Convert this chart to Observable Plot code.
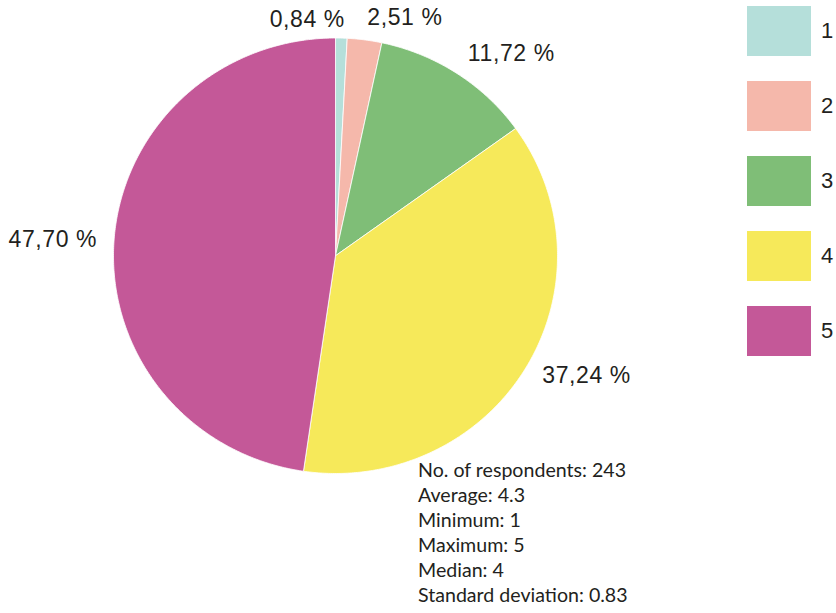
<!DOCTYPE html>
<html>
<head>
<meta charset="utf-8">
<script src="https://cdn.jsdelivr.net/npm/d3@7"></script>
<script src="https://cdn.jsdelivr.net/npm/@observablehq/plot@0.6"></script>
<style>
  html, body { margin: 0; padding: 0; background: #fff; }
  #wrap { position: relative; width: 836px; height: 613px; overflow: hidden; }
  #legend { position: absolute; left: 747px; top: 6px; font-family: "Liberation Sans", Arial, sans-serif; font-size: 22px; color: #231f20; }
  .item { display: flex; align-items: center; height: 50px; margin-bottom: 25px; }
  .sw { width: 64px; height: 50px; margin-right: 10px; }
  #stats { position: absolute; left: 418px; top: 458px; font-family: Lato, "Open Sans", sans-serif; font-size: 19.6px; line-height: 24.9px; color: #231f20; white-space: nowrap; }
  svg text { letter-spacing: 0.6px; }
</style>
</head>
<body>
<div id="wrap">
  <div id="chart"></div>
  <div id="legend"></div>
  <div id="stats"></div>
</div>
<script>
const categories = ["1", "2", "3", "4", "5"];
const percents = [0.84, 2.51, 11.72, 37.24, 47.70];
const colors = ["#b5dfda", "#f5b8ab", "#7fbe77", "#f6e95a", "#c45898"];
const statsLines = [
  "No. of respondents: 243",
  "Average: 4.3",
  "Minimum: 1",
  "Maximum: 5",
  "Median: 4",
  "Standard deviation: 0.83"
];

const total = d3.sum(percents);
let acc = 0;
const slices = categories.map((key, i) => {
  const a0 = acc / total * 2 * Math.PI;
  acc += percents[i];
  const a1 = acc / total * 2 * Math.PI;
  return {key, value: percents[i], a0, a1, mid: (a0 + a1) / 2};
});

// polygon outline of each slice (center + arc)
const pts = [];
for (const s of slices) {
  pts.push({key: s.key, x: 0, y: 0});
  const n = Math.max(2, Math.ceil((s.a1 - s.a0) / (Math.PI / 360)));
  for (let j = 0; j <= n; j++) {
    const a = s.a0 + (s.a1 - s.a0) * j / n;
    pts.push({key: s.key, x: Math.sin(a), y: Math.cos(a)});
  }
  pts.push({key: s.key, x: 0, y: 0});
}

const k = 1.09;
const labels = slices.map(s => ({
  key: s.key,
  x: k * Math.sin(s.mid),
  y: k * Math.cos(s.mid),
  anchor: Math.sin(s.mid) > 0.1 ? "start" : "end",
  text: s.value.toFixed(2).replace(".", ",") + " %"
}));

const plot = Plot.plot({
  width: 836,
  height: 613,
  margin: 0,
  x: {domain: [-1, 1], range: [113, 557], axis: null},
  y: {domain: [-1, 1], range: [473, 37.5], axis: null},
  color: {domain: categories, range: colors},
  style: {fontFamily: "'Liberation Sans', Arial, sans-serif", background: "#fff"},
  marks: [
    Plot.line(pts, {x: "x", y: "y", z: "key", fill: "key", stroke: "white", strokeWidth: 0.8, strokeLinejoin: "round"}),
    Plot.text(labels.filter(d => d.anchor === "start"), {x: "x", y: "y", text: "text", textAnchor: "start", fontSize: 23, fill: "#231f20", dx: 0, dy: -3}),
    Plot.text(labels.filter(d => d.anchor === "end"), {x: "x", y: "y", text: "text", textAnchor: "end", fontSize: 23, fill: "#231f20", dx: 3, dy: 1})
  ]
});
document.getElementById("chart").appendChild(plot);

const legend = document.getElementById("legend");
categories.forEach((c, i) => {
  const item = document.createElement("div");
  item.className = "item";
  const sw = document.createElement("div");
  sw.className = "sw";
  sw.style.background = colors[i];
  const lab = document.createElement("span");
  lab.textContent = c;
  item.appendChild(sw);
  item.appendChild(lab);
  legend.appendChild(item);
});

const stats = document.getElementById("stats");
statsLines.forEach(t => {
  const d = document.createElement("div");
  d.textContent = t;
  stats.appendChild(d);
});
</script>
</body>
</html>
